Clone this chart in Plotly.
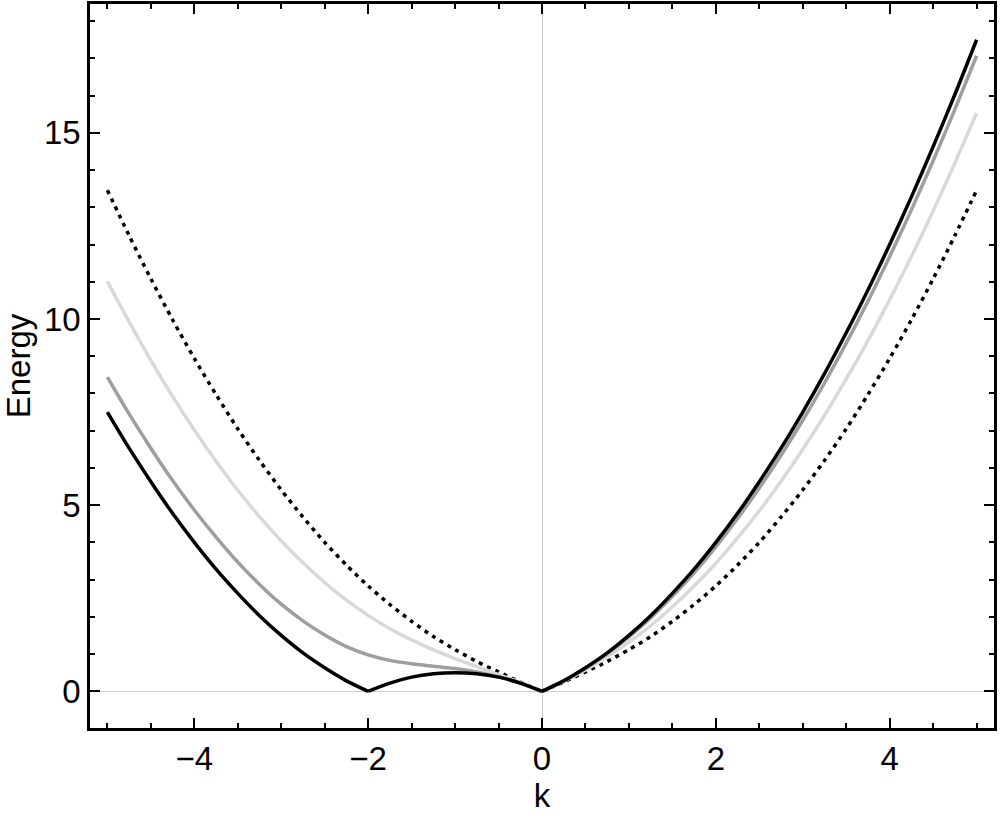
import plotly.graph_objects as go

# wave number samples
k = [-5, -4.75, -4.5, -4.25, -4, -3.75, -3.5, -3.25, -3, -2.75, -2.5, -2.25, -2,
     -1.75, -1.5, -1.25, -1, -0.75, -0.5, -0.25, 0, 0.25, 0.5, 0.75, 1, 1.25, 1.5,
     1.75, 2, 2.25, 2.5, 2.75, 3, 3.25, 3.5, 3.75, 4, 4.25, 4.5, 4.75, 5]

# energies
e_dotted = [13.46, 12.24, 11.08, 9.98, 8.94, 7.97, 7.05, 6.20, 5.41, 4.68, 4.00, 3.39, 2.83,
            2.33, 1.88, 1.47, 1.12, 0.80, 0.52, 0.25, 0, 0.25, 0.52, 0.80, 1.12, 1.47, 1.88,
            2.33, 2.83, 3.39, 4.00, 4.68, 5.41, 6.20, 7.05, 7.97, 8.94, 9.98, 11.08, 12.24, 13.46]
e_light = [11.01, 9.92, 8.89, 7.92, 7.02, 6.18, 5.40, 4.69, 4.04, 3.45, 2.92, 2.45, 2.04,
           1.68, 1.38, 1.11, 0.88, 0.66, 0.45, 0.24, 0, 0.27, 0.57, 0.92, 1.32, 1.76, 2.27,
           2.83, 3.44, 4.12, 4.85, 5.64, 6.50, 7.41, 8.39, 9.42, 10.52, 11.68, 12.90, 14.19, 15.53]
e_gray = [8.44, 7.45, 6.53, 5.66, 4.87, 4.14, 3.47, 2.87, 2.34, 1.89, 1.51, 1.20, 0.98,
          0.83, 0.74, 0.67, 0.61, 0.52, 0.39, 0.22, 0, 0.28, 0.61, 1.01, 1.46, 1.97, 2.55,
          3.18, 3.88, 4.64, 5.46, 6.34, 7.28, 8.28, 9.35, 10.48, 11.68, 12.93, 14.25, 15.63, 17.07]
e_black = [7.50, 6.53, 5.63, 4.78, 4.00, 3.28, 2.63, 2.03, 1.50, 1.03, 0.63, 0.28, 0,
           0.22, 0.38, 0.47, 0.50, 0.47, 0.38, 0.22, 0, 0.28, 0.63, 1.03, 1.50, 2.03, 2.63,
           3.28, 4.00, 4.78, 5.63, 6.53, 7.50, 8.53, 9.63, 10.78, 12.00, 13.28, 14.63, 16.03, 17.50]

i_m2 = k.index(-2)
i_0 = k.index(0)


def add_curve(fig, y, line, cusps):
    # draw smooth pieces between the kinks so the corners stay sharp
    cuts = [0] + cusps + [len(k) - 1]
    for a, b in zip(cuts[:-1], cuts[1:]):
        fig.add_trace(go.Scatter(x=k[a:b + 1], y=y[a:b + 1], mode="lines",
                                 line=dict(shape="spline", smoothing=0.8, **line)))


fig = go.Figure()
add_curve(fig, e_dotted, dict(color="black", width=3.5, dash="4px,5px"), [i_0])
add_curve(fig, e_light, dict(color="#d9d9d9", width=3.5), [i_0])
add_curve(fig, e_gray, dict(color="#9e9e9e", width=3.5), [i_0])
add_curve(fig, e_black, dict(color="black", width=3.5), [i_m2, i_0])

axis_style = dict(showline=True, linewidth=2.5, linecolor="black", mirror="allticks",
                  ticks="inside", ticklen=10, tickwidth=1.5, tickcolor="black",
                  showgrid=False, zeroline=True, zerolinecolor="#cccccc", zerolinewidth=1,
                  automargin=False, tickfont=dict(size=33, color="black"))

fig.update_xaxes(range=[-5.2, 5.2], dtick=2, tick0=0,
                 minor=dict(dtick=0.5, ticks="inside", ticklen=5, tickwidth=1.5, tickcolor="black"),
                 title=dict(text="k", font=dict(size=33, color="black"), standoff=8),
                 **axis_style)
fig.update_yaxes(range=[-0.986, 18.46], dtick=5, tick0=0,
                 minor=dict(dtick=1, ticks="inside", ticklen=5, tickwidth=1.5, tickcolor="black"),
                 title=dict(text="Energy", font=dict(size=33, color="black"), standoff=18),
                 **axis_style)

fig.update_layout(width=1000, height=818, showlegend=False,
                  margin=dict(l=90, r=6, t=4, b=90),
                  plot_bgcolor="white", paper_bgcolor="white",
                  font=dict(family="Liberation Sans, Arial, sans-serif", color="black"))

# drop the browser's default page margin so the figure sits at the corner
fig.write_html("out.html", config={"displayModeBar": False},
               post_script="document.body.style.margin='0';")
